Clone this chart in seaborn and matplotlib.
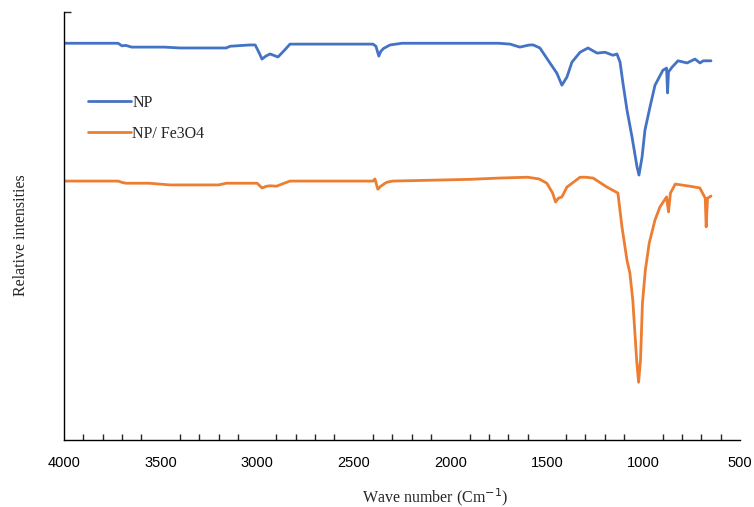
import numpy as np
import pandas as pd
import matplotlib.pyplot as plt
import seaborn as sns
from matplotlib.ticker import MultipleLocator

# FTIR spectra (wave number in cm-1, relative intensity)
np_wave = [4000, 3720, 3700, 3680, 3650, 3480, 3400, 3160, 3140, 3040, 3010, 2990,
           2975, 2955, 2933, 2910, 2892, 2860, 2830, 2400, 2385, 2370, 2360, 2345,
           2312, 2250, 1750, 1690, 1640, 1590, 1570, 1536, 1484, 1448, 1422, 1396,
           1370, 1328, 1287, 1240, 1199, 1158, 1137, 1121, 1106, 1085, 1059, 1033,
           1023, 1007, 992, 966, 940, 899, 880, 875, 870, 852, 821, 774, 733, 707,
           690, 650]
np_int = [92.7, 92.7, 92.1, 92.2, 91.8, 91.8, 91.6, 91.6, 92.0, 92.3, 92.3, 90.5,
          89.0, 89.7, 90.2, 89.8, 89.5, 91.0, 92.5, 92.5, 92.0, 89.7, 90.8, 91.5,
          92.3, 92.7, 92.7, 92.5, 91.8, 92.3, 92.3, 91.6, 88.1, 85.7, 82.9, 84.8,
          88.3, 90.6, 91.6, 90.4, 90.6, 89.9, 90.2, 88.3, 83.4, 77.1, 70.8, 63.8,
          61.9, 66.1, 72.4, 77.8, 82.9, 86.4, 86.9, 81.1, 86.0, 87.1, 88.6, 88.1,
          89.0, 88.1, 88.6, 88.6]

fe_wave = [4000, 3720, 3700, 3680, 3560, 3450, 3200, 3160, 3000, 2975, 2950, 2933,
           2900, 2860, 2830, 2400, 2390, 2375, 2360, 2330, 2300, 2100, 1900, 1750,
           1600, 1540, 1500, 1470, 1455, 1440, 1422, 1396, 1328, 1300, 1260, 1189,
           1132, 1111, 1085, 1070, 1055, 1035, 1025, 1015, 1005, 990, 970, 940, 915,
           880, 870, 860, 835, 760, 708, 680, 675, 668, 650]
fe_int = [60.5, 60.5, 60.2, 60.0, 60.0, 59.6, 59.6, 60.0, 60.0, 58.9, 59.3, 59.4,
          59.3, 60.0, 60.5, 60.5, 61.0, 58.6, 59.3, 60.2, 60.5, 60.7, 60.9, 61.2,
          61.4, 61.0, 60.0, 57.7, 55.6, 56.5, 56.8, 59.1, 61.4, 61.4, 61.2, 59.1,
          57.7, 49.8, 42.0, 39.0, 32.7, 18.7, 13.5, 18.7, 32.0, 39.7, 46.0, 51.4,
          54.4, 56.8, 53.3, 57.7, 59.8, 59.3, 58.9, 56.5, 49.8, 56.5, 57.0]

labels = ['NP', 'NP/ Fe3O4']

df = pd.concat([
    pd.DataFrame({'wave': np_wave, 'intensity': np_int, 'sample': labels[0]}),
    pd.DataFrame({'wave': fe_wave, 'intensity': fe_int, 'sample': labels[1]}),
])

sns.set_style('white')
fig = plt.figure(figsize=(7.54, 5.07), dpi=100)
ax = fig.add_axes([0.0849, 0.1321, 0.8965, 0.8442])

sns.lineplot(data=df, x='wave', y='intensity', hue='sample', estimator=None,
             palette=['#4472C4', '#ED7D31'], linewidth=2, ax=ax)

ax.set_xlim(4000, 500)
ax.set_ylim(0, 100)
ax.xaxis.set_major_locator(MultipleLocator(500))
ax.xaxis.set_minor_locator(MultipleLocator(100))
ax.tick_params(axis='x', which='major', direction='inout', length=7, width=1,
               labelsize=10.5, pad=8, colors='black')
ax.tick_params(axis='x', which='minor', direction='in', length=4, width=1,
               bottom=True)
ax.set_yticks([100])
ax.set_yticklabels([])
ax.tick_params(axis='y', direction='in', length=5, width=1, left=True)
for lab in ax.get_xticklabels():
    lab.set_family('Liberation Sans')

for s in ['top', 'right']:
    ax.spines[s].set_visible(False)
for s in ['left', 'bottom']:
    ax.spines[s].set_color('black')
    ax.spines[s].set_linewidth(1)

ax.set_xlabel('Wave number (Cm$^{-1}$)', family='Liberation Serif', fontsize=11.5)
ax.xaxis.set_label_coords(0.549, -0.108)
ax.set_ylabel('Relative intensities', family='Liberation Serif', fontsize=11.5)
ax.yaxis.set_label_coords(-0.0525, 0.479)

leg = ax.legend(loc='upper left', bbox_to_anchor=(0.036, 0.807), frameon=False,
                handlelength=2.65, handletextpad=0.1, labelspacing=0.95,
                borderaxespad=0, borderpad=0,
                prop={'family': 'Liberation Serif', 'size': 11.5})

fig.savefig('out.png', dpi=100)
